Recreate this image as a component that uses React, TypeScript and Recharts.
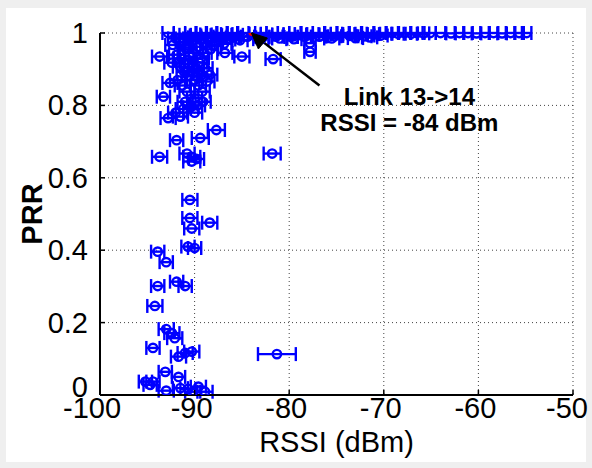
import React from 'react';
import {
  CartesianGrid,
  ErrorBar,
  ReferenceDot,
  ReferenceLine,
  Scatter,
  ScatterChart,
  XAxis,
  YAxis,
} from 'recharts';

// [rssi, prr, rssi std]
const topRow: [number, number, number][] = [
  [-92.8, 1.0, 0.6], [-91.6, 0.998, 0.6], [-91.0, 0.995, 0.6], [-90.4, 1.0, 0.6], [-89.9, 0.993, 0.6],
  [-89.3, 1.0, 0.6], [-88.8, 0.996, 0.6], [-88.2, 1.0, 0.6], [-87.7, 0.994, 0.6], [-87.1, 1.0, 0.6],
  [-86.6, 0.997, 0.6], [-86.0, 1.0, 0.6], [-85.5, 0.995, 0.6], [-84.9, 1.0, 0.6], [-83.6, 0.998, 0.6],
  [-83.0, 1.0, 0.6], [-82.4, 0.996, 0.6], [-81.8, 1.0, 0.6], [-81.2, 0.995, 0.6], [-80.6, 1.0, 0.6],
  [-80.0, 0.997, 0.6], [-79.4, 1.0, 0.6], [-78.8, 0.996, 0.6], [-78.1, 1.0, 0.6], [-77.5, 0.997, 0.6],
  [-76.9, 1.0, 0.6], [-76.2, 0.996, 0.6], [-75.6, 1.0, 0.6], [-75.0, 0.998, 0.6], [-74.3, 1.0, 0.6],
  [-73.7, 0.997, 0.6], [-73.0, 1.0, 0.6], [-72.4, 0.998, 0.6], [-71.7, 1.0, 0.6], [-71.1, 0.997, 0.6],
  [-70.4, 1.0, 0.6], [-69.8, 0.998, 0.6], [-69.1, 1.0, 0.6], [-68.5, 0.998, 0.6], [-67.8, 1.0, 0.6],
  [-67.1, 0.998, 0.6], [-66.5, 1.0, 0.6], [-65.8, 0.999, 0.6], [-65.1, 1.0, 0.6], [-64.0, 1.0, 0.5],
  [-62.9, 0.999, 0.5], [-62.0, 1.0, 0.5], [-61.1, 1.0, 0.5], [-60.2, 0.999, 0.5], [-59.3, 1.0, 0.5],
  [-58.4, 1.0, 0.5], [-57.5, 0.999, 0.5], [-56.6, 1.0, 0.5], [-55.7, 1.0, 0.5], [-54.9, 1.0, 0.5],
];

const nearTop: [number, number, number][] = [
  [-91.3, 0.985, 0.7], [-90.0, 0.988, 0.7], [-88.6, 0.986, 0.7], [-87.3, 0.99, 0.7], [-86.0, 0.987, 0.7],
  [-84.4, 0.99, 0.7], [-82.8, 0.988, 0.7], [-81.4, 0.99, 0.7], [-79.8, 0.989, 0.7], [-78.4, 0.99, 0.7],
  [-76.8, 0.99, 0.7], [-75.2, 0.991, 0.7], [-73.6, 0.992, 0.7], [-72.0, 0.991, 0.7], [-70.3, 0.993, 0.7],
];

const upperCluster: [number, number, number][] = [
  [-92.3, 0.967, 0.8], [-91.2, 0.975, 0.8], [-90.2, 0.978, 0.8], [-89.0, 0.972, 0.8], [-87.8, 0.978, 0.8],
  [-86.5, 0.982, 0.8], [-85.2, 0.98, 0.8], [-83.0, 0.983, 0.8], [-81.0, 0.985, 0.8], [-79.5, 0.983, 0.8],
  [-77.8, 0.972, 0.6], [-77.8, 0.948, 0.6], [-75.5, 0.985, 0.8], [-73.0, 0.986, 0.8], [-71.5, 0.988, 0.8],
  [-93.7, 0.935, 0.8], [-91.9, 0.94, 0.8], [-90.9, 0.955, 0.8], [-90.2, 0.945, 0.8], [-89.3, 0.93, 0.8],
  [-86.8, 0.945, 0.8], [-85.0, 0.935, 0.8], [-81.7, 0.928, 0.8], [-91.5, 0.907, 0.8], [-90.6, 0.915, 0.8],
  [-89.8, 0.9, 0.8], [-88.9, 0.903, 0.8], [-90.5, 0.88, 0.8], [-91.8, 0.87, 0.8], [-92.6, 0.862, 0.8],
  [-88.7, 0.866, 0.8], [-89.6, 0.855, 0.8], [-91.0, 0.96, 0.8], [-89.6, 0.962, 0.8], [-88.3, 0.955, 0.8],
  [-90.8, 0.925, 0.8], [-89.5, 0.918, 0.8], [-88.4, 0.885, 0.8], [-91.1, 0.892, 0.8], [-90.0, 0.87, 0.8],
  [-92.0, 0.985, 0.8], [-89.4, 0.982, 0.8], [-88.0, 0.965, 0.8], [-86.9, 0.97, 0.8], [-92.4, 0.918, 0.8],
  [-91.4, 0.93, 0.8], [-89.0, 0.945, 0.8], [-89.0, 0.88, 0.8], [-90.3, 0.895, 0.8], [-91.3, 0.855, 0.8],
];

const midCluster: [number, number, number][] = [
  [-90.8, 0.838, 0.8], [-89.2, 0.838, 0.8], [-93.3, 0.824, 0.7], [-91.2, 0.79, 0.8], [-89.1, 0.81, 0.8],
  [-90.0, 0.78, 0.8], [-92.8, 0.765, 0.8], [-91.5, 0.769, 0.8], [-90.4, 0.795, 0.8], [-87.7, 0.732, 0.9],
  [-91.9, 0.704, 0.7], [-89.4, 0.71, 0.9], [-93.7, 0.658, 0.8], [-90.3, 0.658, 0.9], [-90.3, 0.645, 0.9],
  [-89.8, 0.652, 0.8], [-81.8, 0.667, 0.9], [-90.0, 0.82, 0.8], [-92.0, 0.78, 0.8], [-90.8, 0.667, 0.8],
  [-89.7, 0.8, 0.8], [-91.0, 0.81, 0.8],
];

const lowCluster: [number, number, number][] = [
  [-90.5, 0.539, 0.8], [-90.5, 0.489, 0.8], [-88.4, 0.476, 0.8], [-90.3, 0.46, 0.8], [-93.9, 0.396, 0.7],
  [-90.7, 0.41, 0.7], [-90.0, 0.406, 0.7], [-93.0, 0.367, 0.7], [-93.9, 0.301, 0.7], [-91.9, 0.313, 0.7],
  [-91.0, 0.301, 0.7], [-94.2, 0.246, 0.8], [-93.0, 0.182, 0.8], [-92.4, 0.171, 0.8], [-92.1, 0.157, 0.8],
  [-94.4, 0.13, 0.7], [-91.7, 0.106, 0.8], [-91.0, 0.116, 0.8], [-90.3, 0.12, 0.8], [-81.3, 0.113, 2.0],
  [-93.1, 0.064, 0.7], [-91.7, 0.05, 0.7], [-95.2, 0.037, 0.7], [-94.4, 0.037, 0.7], [-94.7, 0.028, 0.7],
  [-93.0, 0.012, 0.8], [-91.5, 0.019, 0.8], [-90.7, 0.017, 0.8], [-89.6, 0.023, 0.8], [-88.9, 0.009, 0.8],
  [-90.2, 0.009, 0.8],
];

const highlighted: [number, number][] = [[-84, 1.0]];
const arrowTail = { rssi: -76.8, prr: 0.855 };
const noteAt = { rssi: -67.3, prr: 0.8 };

const xTicks = [-100, -90, -80, -70, -60, -50];
const yTicks = [0, 0.2, 0.4, 0.6, 0.8, 1];

const links = [...topRow, ...nearTop, ...upperCluster, ...midCluster, ...lowCluster].map(([rssi, prr, err]) => ({
  rssi,
  prr,
  err,
}));
const red = highlighted.map(([rssi, prr]) => ({ rssi, prr }));

const BLUE = '#0000ff';
const FONT = 'Liberation Sans, Arial, sans-serif';

const Ring = (props: any) => (
  <circle cx={props.cx} cy={props.cy} r={4.2} fill="none" stroke={BLUE} strokeWidth={2.4} />
);

const RedMark = (props: any) => (
  <circle cx={props.cx} cy={props.cy} r={2.5} fill="#ff0000" stroke="#ff0000" />
);

const ArrowHead = (props: any) => {
  const { cx, cy } = props;
  return (
    <polygon
      points={`${cx},${cy} ${cx + 7},${cy + 16} ${cx + 16},${cy + 5}`}
      fill="#000"
      stroke="#000"
    />
  );
};

const Note = (props: any) => {
  const { cx, cy } = props;
  return (
    <g fontFamily={FONT} fontWeight="bold" fontSize={24} fill="#000" textAnchor="middle">
      <text x={cx} y={cy}>Link 13-&gt;14</text>
      <text x={cx} y={cy + 26}>RSSI = -84 dBm</text>
    </g>
  );
};

const XTick = (props: any) => {
  const { x, y, payload } = props;
  const v = payload.value;
  const dx = v === -100 ? -8 : v === -50 ? -6 : -3;
  return (
    <g>
      <line x1={x} x2={x} y1={395} y2={390} stroke="#000" strokeWidth={1.5} />
      <text x={x + dx} y={y} dy={15} textAnchor="middle" fill="#000" fontSize={29} fontFamily={FONT}>
        {v}
      </text>
    </g>
  );
};

const YTick = (props: any) => {
  const { x, y, payload } = props;
  const v = payload.value;
  const dy = v === 0 ? -8 : 0;
  return (
    <g>
      <line x1={100} x2={105} y1={y} y2={y} stroke="#000" strokeWidth={1.5} />
      <text x={x} y={y + dy} dy={10} textAnchor="end" fill="#000" fontSize={29} fontFamily={FONT}>
        {v}
      </text>
    </g>
  );
};

export default function App() {
  return (
    <div style={{ position: 'absolute', left: 0, top: 0, width: 592, height: 468, background: '#efefef' }}>
      <div style={{ position: 'absolute', left: 6, top: 8, width: 580, height: 454, background: '#fff' }} />
      <div style={{ position: 'absolute', left: 0, top: 0 }}>
        <ScatterChart width={592} height={468} margin={{ top: 33, right: 19, left: 10, bottom: 0 }}>
          <CartesianGrid stroke="#444" strokeDasharray="1 3" />
          <XAxis
            type="number"
            dataKey="rssi"
            domain={[-100, -50]}
            ticks={xTicks}
            allowDataOverflow
            height={73}
            axisLine={{ stroke: '#000', strokeWidth: 2 }}
            tickLine={false}
            tick={<XTick />}
            tickMargin={2}
            label={{ value: 'RSSI (dBm)', position: 'insideBottom', offset: 16, fill: '#000', fontSize: 29, fontFamily: FONT }}
          />
          <YAxis
            type="number"
            dataKey="prr"
            domain={[0, 1]}
            ticks={yTicks}
            allowDataOverflow
            width={90}
            axisLine={{ stroke: '#000', strokeWidth: 2 }}
            tickLine={false}
            tick={<YTick />}
            tickMargin={6}
            label={{
              value: 'PRR',
              angle: -90,
              position: 'insideLeft',
              offset: 22,
              textAnchor: 'middle',
              fill: '#000',
              fontSize: 29,
              fontWeight: 'bold',
              fontFamily: FONT,
            }}
          />
          <Scatter data={links} shape={Ring} isAnimationActive={false}>
            <ErrorBar dataKey="err" direction="x" width={7} stroke={BLUE} strokeWidth={2.4} />
          </Scatter>
          <Scatter data={red} shape={RedMark} isAnimationActive={false} />
          <ReferenceLine
            segment={[
              { x: arrowTail.rssi, y: arrowTail.prr },
              { x: highlighted[0][0], y: highlighted[0][1] },
            ]}
            stroke="#000"
            strokeWidth={2.5}
          />
          <ReferenceDot x={highlighted[0][0]} y={highlighted[0][1]} r={0} shape={ArrowHead} />
          <ReferenceDot x={noteAt.rssi} y={noteAt.prr} r={0} shape={Note} />
        </ScatterChart>
      </div>
    </div>
  );
}
